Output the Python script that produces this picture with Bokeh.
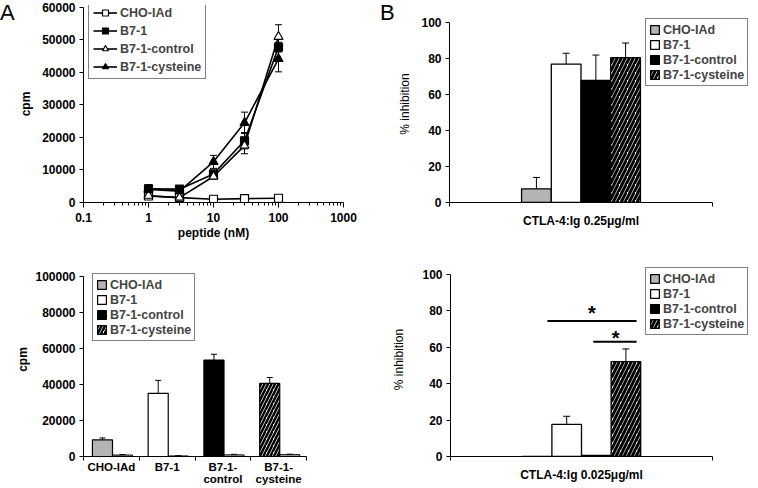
from bokeh.plotting import figure
from bokeh.models import (Range1d, FixedTicker, NumeralTickFormatter, BasicTickFormatter,
                          Whisker, ColumnDataSource, Legend, LegendItem, TeeHead, Div)
from bokeh.layouts import column, row
from bokeh.embed import file_html
from bokeh.resources import INLINE
from bokeh.core.properties import value

FONT = "Liberation Sans"

# ---------------- data ----------------
# Panel A (top): proliferation vs peptide dose
peptide_nM = [1, 3, 10, 30, 100]
cho_cpm = [2000, 1500, 1000, 1200, 1300]
cho_err = [300, 300, 200, 200, 200]
b71_cpm = [4200, 4100, 8800, 19000, 47800]
b71_err = [1300, 800, 1000, 2500, 1500]
ctrl_cpm = [2100, 1500, 8000, 17500, 51000]
ctrl_err = [400, 300, 800, 2500, 3700]
cys_cpm = [4000, 3500, 12500, 24500, 44200]
cys_err = [800, 600, 2000, 3300, 4000]

# Panel A (bottom): cpm per cell line, with peptide and without peptide
cell_lines = ["CHO-IAd", "B7-1", "B7-1-control", "B7-1-cysteine"]
cell_tick_labels = ["CHO-IAd", "B7-1", "B7-1-\ncontrol", "B7-1-\ncysteine"]
with_peptide_cpm = [9200, 35100, 53600, 40600]
with_peptide_err = [1100, 7200, 3200, 3300]
no_peptide_cpm = [800, 300, 900, 1000]
no_peptide_err = [300, 100, 300, 300]

# Panel B: % inhibition by CTLA-4:Ig
inhib_high_label = "CTLA-4:Ig 0.25\u03bcg/ml"
inhib_high = [7.6, 76.8, 67.7, 80.4]
inhib_high_err = [6.3, 6.0, 14.1, 8.1]
inhib_low_label = "CTLA-4:Ig 0.025\u03bcg/ml"
inhib_low = [0.0, 17.7, 0.6, 52.1]
inhib_low_err = [0.0, 4.4, 0.0, 7.0]
sig_x0 = [0.37, 0.545]
sig_x1 = [0.71, 0.71]
sig_y = [74.5, 63.0]
sig_star_x = [0.54, 0.63]
sig_star_y = [73.0, 59.0]

# styles per cell line
fills = ["#b4b4b4", "white", "black", "white"]
hatches = [" ", " ", " ", "/"]

TICK_SIZE = "12px"
LEG_SIZE = "12.5px"


def style_axes(p):
    for ax in (p.xaxis[0], p.yaxis[0]):
        ax.axis_line_color = "black"
        ax.axis_line_width = 1
        ax.major_label_text_font = FONT
        ax.major_label_text_font_style = "bold"
        ax.major_label_text_font_size = TICK_SIZE
        ax.major_label_text_color = "black"
        ax.axis_label_text_font = FONT
        ax.axis_label_text_font_size = "12px"
        ax.axis_label_text_color = "black"
        ax.major_tick_in = 0
        ax.minor_tick_in = 0
        ax.major_tick_line_color = "black"
        ax.minor_tick_line_color = "black"
    p.yaxis.major_tick_out = 4
    p.yaxis.minor_tick_out = 0
    p.yaxis.major_label_standoff = 4
    p.xgrid.visible = False
    p.ygrid.visible = False
    p.outline_line_color = None
    p.background_fill_color = "white"
    p.border_fill_color = "white"


def make_legend(items, loc, glyph_w, glyph_h, label_h, spacing, padding):
    return Legend(items=items, location=loc, border_line_color="black", border_line_width=1,
                  label_text_font=FONT, label_text_font_style="bold",
                  label_text_font_size=LEG_SIZE, glyph_width=glyph_w, glyph_height=glyph_h,
                  label_height=label_h, spacing=spacing, padding=padding,
                  label_standoff=3, margin=0, background_fill_alpha=1)


def letter_div(t, w):
    return Div(text=t, width=w, height=30, margin=(0, 0, 0, 0),
               styles={"font-family": FONT, "font-size": "22px", "line-height": "22px",
                       "color": "black", "padding-top": "2px", "padding-left": "0px",
                       "white-space": "nowrap"})


# ---------------- Panel A top ----------------
# frame 83..343 x, 5..205 y ; 0 cpm at 205, 60000 at 7
a1 = figure(width=365, height=242, x_axis_type="log", output_backend="svg", title=None,
            toolbar_location=None, x_range=Range1d(0.1, 1000),
            y_range=Range1d(0, 60000 * 200 / 198),
            min_border_left=68, min_border_right=37, min_border_top=5, min_border_bottom=37)
style_axes(a1)
minor = [m * d for d in (0.1, 1, 10, 100) for m in range(2, 10)]
a1.xaxis.ticker = FixedTicker(ticks=[0.1, 1, 10, 100, 1000], minor_ticks=minor)
a1.xaxis.formatter = BasicTickFormatter()
a1.xaxis.major_tick_out = 5
a1.xaxis.minor_tick_out = 3
a1.xaxis.major_label_standoff = 5
a1.xaxis.axis_label = "peptide (nM)"
a1.xaxis.axis_label_text_font_style = "bold"
a1.xaxis.axis_label_standoff = 1
a1.yaxis.ticker = FixedTicker(ticks=[0, 10000, 20000, 30000, 40000, 50000, 60000])
a1.yaxis.formatter = NumeralTickFormatter(format="0")
a1.yaxis.bounds = (0, 60000)
a1.yaxis.axis_label = "cpm"
a1.yaxis.axis_label_text_font_style = "bold"
a1.yaxis.axis_label_standoff = 6

series = [
    ("CHO-IAd", cho_cpm, cho_err, "square", "white"),
    ("B7-1", b71_cpm, b71_err, "square", "black"),
    ("B7-1-control", ctrl_cpm, ctrl_err, "triangle", "white"),
    ("B7-1-cysteine", cys_cpm, cys_err, "triangle", "black"),
]
items = []
for name, ys, es, marker, fill in series:
    src = ColumnDataSource(dict(x=peptide_nM, y=ys,
                                lo=[a - b for a, b in zip(ys, es)],
                                hi=[a + b for a, b in zip(ys, es)]))
    a1.add_layout(Whisker(source=src, base="x", lower="lo", upper="hi", dimension="height",
                          line_color="black", line_width=1,
                          upper_head=TeeHead(size=7, line_color="black", line_width=1),
                          lower_head=TeeHead(size=7, line_color="black", line_width=1)))
    r1 = a1.line("x", "y", source=src, line_color="black", line_width=1.6)
    r2 = a1.scatter("x", "y", source=src, marker=marker, size=8 if marker == "square" else 9,
                    fill_color=fill, line_color="black", line_width=1.2)
    items.append(LegendItem(label=name, renderers=[r1, r2]))
a1.add_layout(make_legend(items, (5, 123), 24, 15, 15, 3, 4), "center")

# ---------------- Panel A bottom ----------------
# frame 83..306 x, 262..456 y ; 0 at 456, 100000 at 276
a2 = figure(width=380, height=246, output_backend="svg", toolbar_location=None, title=None,
            x_range=Range1d(0, 4), y_range=Range1d(0, 100000 * 194 / 180),
            min_border_left=83, min_border_right=74, min_border_top=20, min_border_bottom=32)
style_axes(a2)
centers = [i + 0.5 for i in range(len(cell_lines))]
a2.xaxis.ticker = FixedTicker(ticks=centers, minor_ticks=[0, 1, 2, 3, 4])
a2.xaxis.major_label_overrides = {c: t for c, t in zip(centers, cell_tick_labels)}
a2.xaxis.major_label_text_font_size = "11.5px"
a2.xaxis.major_tick_out = 0
a2.xaxis.minor_tick_out = 4
a2.xaxis.major_label_standoff = 0
a2.xaxis.major_label_text_line_height = 1.0
a2.yaxis.ticker = FixedTicker(ticks=[0, 20000, 40000, 60000, 80000, 100000])
a2.yaxis.formatter = NumeralTickFormatter(format="0")
a2.yaxis.bounds = (0, 100000)
a2.yaxis.axis_label = "cpm"
a2.yaxis.axis_label_text_font_style = "bold"
a2.yaxis.axis_label_standoff = 2

bw = 0.36
main_x = [c - 0.16 for c in centers]
small_x = [c + 0.20 for c in centers]
src_main = ColumnDataSource(dict(x=main_x, top=with_peptide_cpm,
                                 lo=[a - b for a, b in zip(with_peptide_cpm, with_peptide_err)],
                                 hi=[a + b for a, b in zip(with_peptide_cpm, with_peptide_err)]))
src_small = ColumnDataSource(dict(x=small_x, top=no_peptide_cpm,
                                  lo=[a - b for a, b in zip(no_peptide_cpm, no_peptide_err)],
                                  hi=[a + b for a, b in zip(no_peptide_cpm, no_peptide_err)]))
bars_a2 = []
for i in range(len(cell_lines)):
    s = ColumnDataSource(dict(x=[main_x[i]], top=[with_peptide_cpm[i]]))
    r = a2.vbar(x="x", top="top", bottom=0, width=bw, source=s, fill_color=fills[i],
                line_color="black", line_width=1.2, hatch_pattern=hatches[i],
                hatch_color="black", hatch_scale=7, hatch_weight=2.5)
    bars_a2.append(r)
a2.vbar(x="x", top="top", bottom=0, width=bw, source=src_small, fill_color="#b4b4b4",
        line_color="black", line_width=1)
for s in (src_main, src_small):
    a2.add_layout(Whisker(source=s, base="x", lower="lo", upper="hi", dimension="height",
                          line_color="black", line_width=1,
                          upper_head=TeeHead(size=6, line_color="black", line_width=1),
                          lower_head=TeeHead(size=6, line_color="black", line_width=1)))
a2.add_layout(make_legend([LegendItem(label=n, renderers=[r]) for n, r in zip(cell_lines, bars_a2)],
                          (9, 115), 11, 11, 15, 0, 3), "center")


# ---------------- Panel B ----------------
def panel_b(vals, errs, cat_label, width, height, left, top, bottom, frame_w, frame_h,
            axis_px, zero_to_top_px, leg_loc, label_standoff, sig=False):
    p = figure(width=width, height=height, output_backend="svg", toolbar_location=None,
               title=None, x_range=Range1d(0, frame_w / axis_px),
               y_range=Range1d(0, 100 * frame_h / zero_to_top_px),
               min_border_left=left, min_border_right=width - left - frame_w,
               min_border_top=top, min_border_bottom=bottom)
    style_axes(p)
    p.xaxis.ticker = FixedTicker(ticks=[0.5], minor_ticks=[0, 1])
    p.xaxis.major_label_overrides = {0.5: cat_label}
    p.xaxis.bounds = (0, 1)
    p.xaxis.major_tick_out = 0
    p.xaxis.minor_tick_out = 4
    p.xaxis.major_label_standoff = 7
    p.yaxis.ticker = FixedTicker(ticks=[0, 20, 40, 60, 80, 100])
    p.yaxis.bounds = (0, 100)
    p.yaxis.axis_label = "% inhibition"
    p.yaxis.axis_label_text_font_style = "normal"
    p.yaxis.axis_label_standoff = label_standoff
    w = 0.113
    xs = [0.5 + (i - 1.5) * w for i in range(len(vals))]
    rs = []
    for i in range(len(vals)):
        s = ColumnDataSource(dict(x=[xs[i]], top=[vals[i]]))
        r = p.vbar(x="x", top="top", bottom=0, width=w, source=s, fill_color=fills[i],
                   line_color="black", line_width=1.3, hatch_pattern=hatches[i],
                   hatch_color="black", hatch_scale=8, hatch_weight=3)
        rs.append(r)
    ex = [x for x, e in zip(xs, errs) if e > 0]
    ev = [v for v, e in zip(vals, errs) if e > 0]
    ee = [v + e for v, e in zip(vals, errs) if e > 0]
    es = ColumnDataSource(dict(x=ex, lo=ev, hi=ee))
    p.add_layout(Whisker(source=es, base="x", lower="lo", upper="hi", dimension="height",
                         line_color="black", line_width=1, lower_head=None,
                         upper_head=TeeHead(size=7, line_color="black", line_width=1)))
    p.add_layout(make_legend([LegendItem(label=n, renderers=[r]) for n, r in zip(cell_lines, rs)],
                             leg_loc, 11, 11, 15, 0, 3), "center")
    if sig:
        p.segment(x0=sig_x0, x1=sig_x1, y0=sig_y, y1=sig_y, line_color="black", line_width=2)
        p.text(x=sig_star_x, y=sig_star_y, text=["*", "*"], text_font=value(FONT),
               text_font_style="bold", text_font_size="20px", text_align="center",
               text_baseline="bottom")
    return p


# B top: frame 449..754 x, 5..205 y ; axis 449..712 ; 100 at 22
b1 = panel_b(inhib_high, inhib_high_err, inhib_high_label, 363, 242, 54, 5, 37, 305, 200,
             263, 183, (196, 116), 6)
# B bottom: frame 450..754 x, 262..456 y ; axis 450..712 ; 100 at 274
b2 = panel_b(inhib_low, inhib_low_err, inhib_low_label, 378, 246, 70, 20, 32, 304, 194,
             262, 182, (195, 121), 13, sig=True)

layout = column(row(letter_div("A", 15), a1, letter_div("B", 15), b1, spacing=0),
                row(a2, b2, spacing=0), spacing=0)
open("out.html", "w").write(file_html(layout, INLINE))
